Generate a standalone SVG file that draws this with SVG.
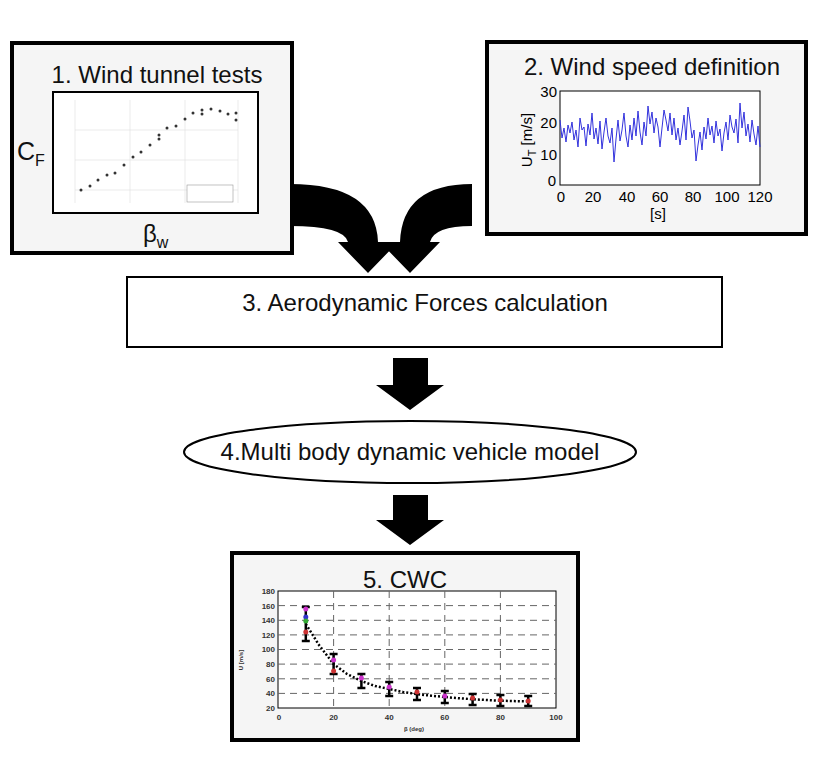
<svg xmlns="http://www.w3.org/2000/svg" width="820" height="758" viewBox="0 0 820 758">
<style>
.box{fill:#f5f5f5;stroke:#000;stroke-width:4}
.t{font-family:"Liberation Sans",Arial,sans-serif;fill:#111}
.tk{font-family:"Liberation Sans",Arial,sans-serif;font-size:15px;fill:#000}
.sk{font-family:"Liberation Sans",Arial,sans-serif;font-size:8px;font-weight:bold;fill:#333}
.grid{stroke:#666;stroke-width:1;stroke-dasharray:7 5}
.arr{fill:#000}
</style>
<rect width="820" height="758" fill="#fff"/>
<g id="node1">
<rect class="box" x="12" y="43" width="280" height="210"/>
<text class="t" x="157" y="83" font-size="24" text-anchor="middle">1. Wind tunnel tests</text>
<rect x="53" y="92" width="205" height="121" fill="#fff" stroke="#000" stroke-width="2"/>
<g stroke="#ddd" stroke-width="0.6">
<line x1="75" y1="100" x2="75" y2="203"/><line x1="130" y1="100" x2="130" y2="203"/><line x1="185" y1="100" x2="185" y2="203"/><line x1="238" y1="100" x2="238" y2="203"/>
<line x1="75" y1="130" x2="238" y2="130"/><line x1="75" y1="160" x2="238" y2="160"/><line x1="75" y1="190" x2="238" y2="190"/>
</g>
<g fill="#333">
<circle cx="81" cy="190" r="1.5"/><circle cx="90" cy="186" r="1.5"/><circle cx="98" cy="180" r="1.5"/><circle cx="107" cy="175" r="1.5"/><circle cx="115" cy="173" r="1.5"/><circle cx="124" cy="165" r="1.5"/><circle cx="133" cy="157" r="1.5"/><circle cx="141" cy="152" r="1.5"/><circle cx="150" cy="145" r="1.5"/><circle cx="159" cy="135" r="1.5"/><circle cx="159" cy="139" r="1.5"/><circle cx="167" cy="128" r="1.5"/><circle cx="176" cy="126" r="1.5"/><circle cx="185" cy="119" r="1.5"/><circle cx="193" cy="113" r="1.5"/><circle cx="202" cy="110" r="1.5"/><circle cx="202" cy="114" r="1.5"/><circle cx="211" cy="109" r="1.5"/><circle cx="220" cy="111" r="1.5"/><circle cx="228" cy="114" r="1.5"/><circle cx="236" cy="113" r="1.5"/><circle cx="236" cy="120" r="1.5"/>
</g>
<rect x="187" y="185" width="46" height="17" fill="#fff" stroke="#999" stroke-width="0.6"/>
<text class="t" x="17" y="160" font-size="25">C<tspan font-size="16" dy="6">F</tspan></text>
<text class="t" x="143" y="242" font-size="24">β<tspan font-size="16" dy="6">w</tspan></text>
</g>
<g id="node2">
<rect class="box" x="487" y="42" width="319" height="192"/>
<text class="t" x="652" y="75" font-size="24" text-anchor="middle">2. Wind speed definition</text>
<rect x="560" y="91" width="200" height="94" fill="#fff" stroke="#000" stroke-width="1"/>
<polyline fill="none" stroke="#3333dd" stroke-width="1" points="560,120 562,138 564,128 566,142 568,125 570,133 572,122 574,140 576,130 578,147 580,118 582,130 584,127 586,146 588,124 590,135 592,113 594,139 596,128 598,144 600,121 602,149 604,132 606,118 608,136 610,143 612,128 614,162 616,139 618,120 620,141 622,130 624,113 626,136 628,147 630,125 632,140 634,118 636,136 638,111 640,132 642,145 644,122 646,136 648,106 650,124 652,112 654,133 656,118 658,127 660,147 662,128 664,110 666,120 668,131 670,113 672,135 674,118 676,140 678,128 680,145 682,131 684,115 686,140 688,107 690,121 692,138 694,130 696,161 698,145 700,132 702,150 704,127 706,139 708,118 710,135 712,126 714,143 716,121 718,136 720,129 722,151 724,133 726,122 728,140 730,115 732,127 734,133 736,119 738,143 740,103 742,128 744,112 746,136 748,124 750,142 752,120 754,134 756,145 758,126 760,147"/>
<g class="tk" text-anchor="end">
<text x="557" y="97">30</text><text x="557" y="128">20</text><text x="557" y="160">10</text><text x="556" y="186">0</text>
</g>
<g class="tk" text-anchor="middle">
<text x="561" y="202">0</text><text x="593" y="202">20</text><text x="627" y="202">40</text><text x="660" y="202">60</text><text x="693" y="202">80</text><text x="727" y="202">100</text><text x="760" y="202">120</text>
<text x="658" y="219">[s]</text>
<text transform="translate(532,140) rotate(-90)">U<tspan font-size="11" dy="4">T</tspan><tspan dy="-4"> [m/s]</tspan></text>
</g>
</g>
<g id="node3">
<rect x="127" y="277" width="595" height="70" fill="#fff" stroke="#000" stroke-width="2"/>
<text class="t" x="425" y="311" font-size="24" text-anchor="middle">3. Aerodynamic Forces calculation</text>
</g>
<g id="node4">
<ellipse cx="410" cy="452" rx="226" ry="31" fill="#fff" stroke="#000" stroke-width="2"/>
<text class="t" x="410" y="460" font-size="24" text-anchor="middle">4.Multi body dynamic vehicle model</text>
</g>
<g id="node5">
<rect class="box" x="232" y="553" width="346" height="187"/>
<text class="t" x="405" y="588" font-size="24" text-anchor="middle">5. CWC</text>
<rect x="278" y="591" width="278" height="117" fill="#fff" stroke="#000" stroke-width="1"/>
<g class="grid">
<line x1="333.6" y1="591" x2="333.6" y2="708"/><line x1="389.2" y1="591" x2="389.2" y2="708"/><line x1="444.8" y1="591" x2="444.8" y2="708"/><line x1="500.4" y1="591" x2="500.4" y2="708"/>
<line x1="278" y1="693.4" x2="556" y2="693.4"/><line x1="278" y1="678.8" x2="556" y2="678.8"/><line x1="278" y1="664.1" x2="556" y2="664.1"/><line x1="278" y1="649.5" x2="556" y2="649.5"/><line x1="278" y1="634.9" x2="556" y2="634.9"/><line x1="278" y1="620.3" x2="556" y2="620.3"/><line x1="278" y1="605.6" x2="556" y2="605.6"/>
</g>
<polyline fill="none" stroke="#000" stroke-width="2.5" stroke-dasharray="2 2" points="305.8,623.9 319,645 333.6,664.1 347,674 361.4,681 375,686 389.2,689 403,692 417,694.1 431,695.7 444.8,697 458,698.2 472.6,699.2 486,700 500.4,700.7 514,701.1 528.2,701.4"/>
<g stroke="#000" stroke-width="2.5">
<line x1="305.8" y1="607" x2="305.8" y2="641"/><line x1="301.8" y1="607" x2="309.8" y2="607"/><line x1="301.8" y1="641" x2="309.8" y2="641"/>
<line x1="333.6" y1="654" x2="333.6" y2="674"/><line x1="329.6" y1="654" x2="337.6" y2="654"/><line x1="329.6" y1="674" x2="337.6" y2="674"/>
<line x1="361.4" y1="674" x2="361.4" y2="688"/><line x1="357.4" y1="674" x2="365.4" y2="674"/><line x1="357.4" y1="688" x2="365.4" y2="688"/>
<line x1="389.2" y1="682" x2="389.2" y2="696"/><line x1="385.2" y1="682" x2="393.2" y2="682"/><line x1="385.2" y1="696" x2="393.2" y2="696"/>
<line x1="417" y1="688" x2="417" y2="700"/><line x1="413" y1="688" x2="421" y2="688"/><line x1="413" y1="700" x2="421" y2="700"/>
<line x1="444.8" y1="691" x2="444.8" y2="703"/><line x1="440.8" y1="691" x2="448.8" y2="691"/><line x1="440.8" y1="703" x2="448.8" y2="703"/>
<line x1="472.6" y1="694" x2="472.6" y2="705"/><line x1="468.6" y1="694" x2="476.6" y2="694"/><line x1="468.6" y1="705" x2="476.6" y2="705"/>
<line x1="500.4" y1="695" x2="500.4" y2="706"/><line x1="496.4" y1="695" x2="504.4" y2="695"/><line x1="496.4" y1="706" x2="504.4" y2="706"/>
<line x1="528.2" y1="696" x2="528.2" y2="706"/><line x1="524.2" y1="696" x2="532.2" y2="696"/><line x1="524.2" y1="706" x2="532.2" y2="706"/>
</g>
<g>
<circle cx="305.8" cy="609" r="2.5" fill="#c3c"/><circle cx="305.8" cy="617" r="2.5" fill="#33c"/><circle cx="305.8" cy="621" r="2.5" fill="#3a3"/><circle cx="305.8" cy="632" r="2.5" fill="#c33"/>
<circle cx="333.6" cy="660" r="2.5" fill="#c3c"/><circle cx="333.6" cy="671" r="2.5" fill="#c33"/>
<circle cx="361.4" cy="678" r="2.5" fill="#c3c"/><circle cx="389.2" cy="687" r="2.5" fill="#c3c"/><circle cx="417" cy="692" r="2.5" fill="#c33"/><circle cx="444.8" cy="696" r="2.5" fill="#c3c"/><circle cx="472.6" cy="698" r="2.5" fill="#c33"/><circle cx="500.4" cy="700" r="2.5" fill="#c33"/><circle cx="528.2" cy="701" r="2.5" fill="#c33"/>
</g>
<g class="sk" text-anchor="end">
<text x="275" y="594">180</text><text x="275" y="609">160</text><text x="275" y="623">140</text><text x="275" y="638">120</text><text x="275" y="652">100</text><text x="275" y="667">80</text><text x="275" y="682">60</text><text x="275" y="696">40</text><text x="275" y="711">20</text>
</g>
<g class="sk" text-anchor="middle">
<text x="279" y="720">0</text><text x="333.6" y="720">20</text><text x="389.2" y="720">40</text><text x="444.8" y="720">60</text><text x="500.4" y="720">80</text><text x="556" y="720">100</text>
<text x="414" y="731" font-size="6">β (deg)</text>
<text transform="translate(243,660) rotate(-90)" font-size="6">U [m/s]</text>
</g>
</g>
<g id="connectors">
<path class="arr" d="M290,184 Q376,184 378,242 L398,242 L368,273 L338,242 L348,242 Q344,226 290,226 Z"/>
<path class="arr" d="M472,184 Q402,184 400,242 L380,242 L410,273 L440,242 L430,242 Q434,226 472,226 Z"/>
<path class="arr" d="M393,358 L428,358 L428,385 L444,385 L410,410 L376,385 L393,385 Z"/>
<path class="arr" d="M393,495 L428,495 L428,520 L444,520 L410,545 L376,520 L393,520 Z"/>
</g>
</svg>
